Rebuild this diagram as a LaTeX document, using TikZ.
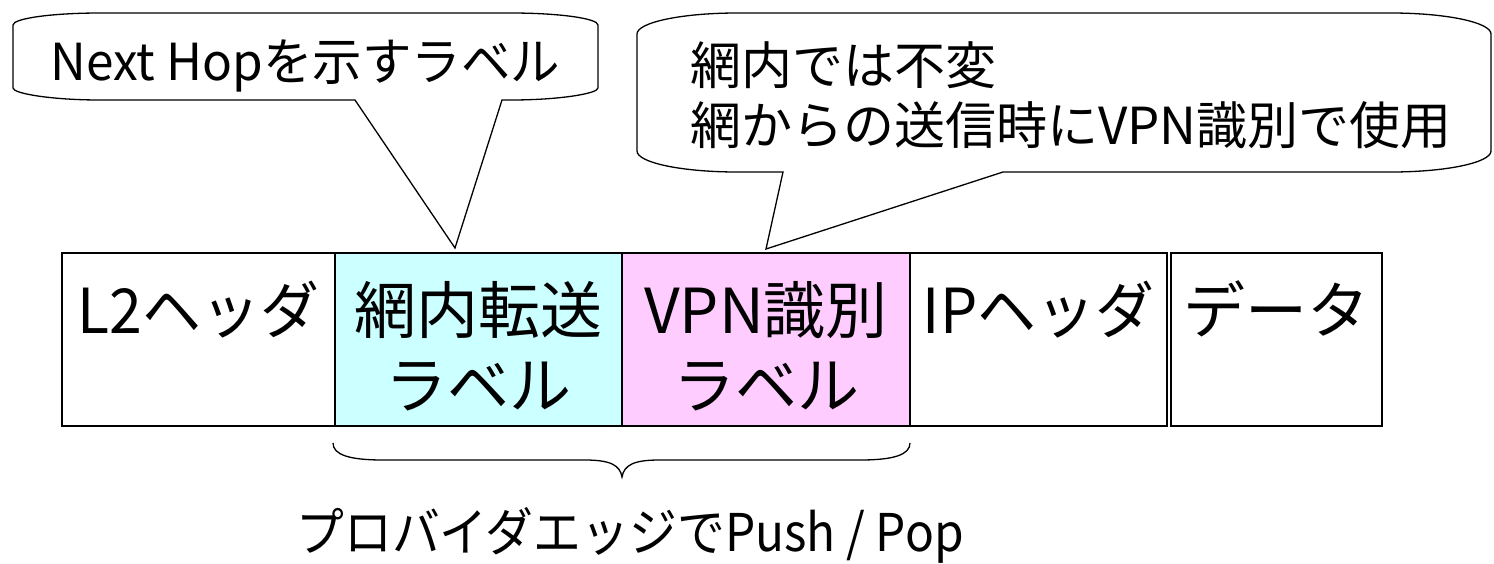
\documentclass[tikz,border=0pt]{standalone}
\usepackage{fontspec}
\setmainfont{Noto Sans CJK JP}
\definecolor{cyanfill}{RGB}{204,255,255}
\definecolor{pinkfill}{RGB}{255,204,255}
\begin{document}
\begin{tikzpicture}[x=1pt,y=-1pt,
  cell/.style={draw=black, line width=1.5pt, minimum height=173pt, inner sep=0pt},
  rowtxt/.style={font=\fontsize{62}{62}\selectfont, anchor=base, inner sep=0pt},
  calltxt/.style={font=\fontsize{51}{51}\selectfont, inner sep=0pt},
  bubble/.style={draw=black, line width=1.3pt, fill=white, line join=miter},
  bracestyle/.style={draw=black, line width=1.3pt}]
\useasboundingbox (0,0) rectangle (1494,563);
% packet cells
\node[cell, minimum width=273pt] (l2) at (198.5,339.5) {};
\node[cell, fill=cyanfill, minimum width=287pt] (fwd) at (478.5,339.5) {};
\node[cell, fill=pinkfill, minimum width=288pt] (vpn) at (766,339.5) {};
\node[cell, minimum width=257pt] (ip) at (1038.5,339.5) {};
\node[cell, minimum width=211pt] (data) at (1276.5,339.5) {};
% cell texts
\node[rowtxt] (l2t) at (198.5,333) {\scalebox{0.95}[1]{L2ヘッダ}};
\node[rowtxt] (fwdt1) at (478.5,333) {網内転送};
\node[rowtxt] (fwdt2) at (478.5,408) {ラベル};
\node[rowtxt] (vpnt1) at (766,333) {VPN識別};
\node[rowtxt] (vpnt2) at (766,408) {ラベル};
\node[rowtxt] (ipt) at (1038.5,333) {\scalebox{0.95}[1]{IPヘッダ}};
\node[rowtxt] (datat) at (1276.5,333) {データ};
% callout 1
\coordinate (tip1) at (455,248);
\draw[bubble] (100,13) -- (511,13) .. controls (559,13) and (598,18.4) .. (598,25)
  -- (598,88) .. controls (598,93.6) and (559,100) .. (511,100)
  -- (502,100) -- (tip1) -- (355,100)
  -- (100,100) .. controls (52,100) and (13,93.6) .. (13,88)
  -- (13,25) .. controls (13,18.4) and (52,13) .. (100,13) -- cycle;
\node[calltxt, anchor=base] (c1t) at (305.5,80) {\scalebox{0.97}[1]{Next Hopを示すラベル}};
% callout 2
\coordinate (tip2) at (766,249);
\draw[bubble] (737,13) -- (1391,13) .. controls (1446.2,13) and (1491,22.4) .. (1491,34)
  -- (1491,151) .. controls (1491,162.6) and (1446.2,172) .. (1391,172)
  -- (1003,172) -- (tip2) -- (783,172)
  -- (737,172) .. controls (681.8,172) and (637,162.6) .. (637,151)
  -- (637,34) .. controls (637,22.4) and (681.8,13) .. (737,13) -- cycle;
\node[calltxt, anchor=base west] (c2a) at (690,84) {網内では不変};
\node[calltxt, anchor=base west] (c2b) at (690,144) {網からの送信時にVPN識別で使用};
% brace
\draw[bracestyle] (333,443) .. controls (333,455) and (350,460) .. (383,460)
  -- (585,460) .. controls (610,460) and (620,465) .. (622,477)
  .. controls (624,465) and (634,460) .. (659,460)
  -- (860,460) .. controls (893,460) and (910,455) .. (910,443);
\node[font=\fontsize{52}{52}\selectfont, anchor=base, inner sep=0pt] (bt) at (630,551) {\scalebox{0.92}[1]{プロバイダエッジでPush / Pop}};
\end{tikzpicture}
\end{document}
